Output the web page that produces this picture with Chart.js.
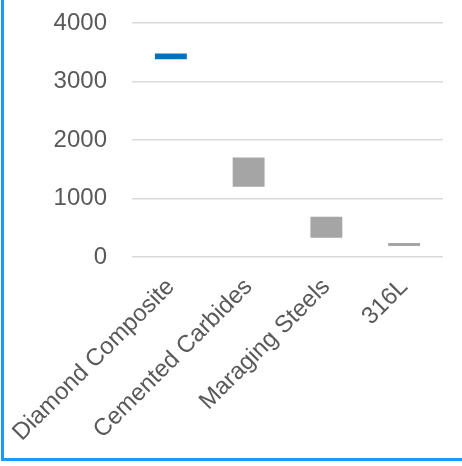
<!DOCTYPE html>
<html>
<head>
<meta charset="utf-8">
<script src="https://cdn.jsdelivr.net/npm/chart.js@4/dist/chart.umd.min.js"></script>
<style>
  html, body { margin: 0; padding: 0; background: #fff; }
  #wrap { position: relative; width: 462px; height: 466px; overflow: hidden; }
  #frame {
    position: absolute; left: 1px; top: -4px; width: 470px; height: 462px;
    border-left: 3px solid #1e98fa; border-bottom: 3px solid #1e98fa;
  }
  #chart { position: absolute; left: 0; top: 0; }
</style>
</head>
<body>
<div id="wrap">
  <canvas id="chart" width="462" height="466"></canvas>
  <div id="frame"></div>
</div>
<script>
  // ---- DATA ----
  const categories = ["Diamond Composite", "Cemented Carbides", "Maraging Steels", "316L"];
  const lowValues = [3380, 1200, 330, 190];
  const highValues = [3480, 1700, 690, 240];
  const yTicks = [0, 1000, 2000, 3000, 4000];

  // floating bars: each entry is [low, high]
  const ranges = categories.map((c, i) => [lowValues[i], highValues[i]]);

  const barColors = ["#0070c0", "#a5a5a5", "#a5a5a5", "#a5a5a5"];
  const font = { family: "'Liberation Sans', Arial, sans-serif", size: 24 };

  // keep the plot box fixed: no extra room for overhanging tick labels
  function noOverhang(scale) {
    scale.paddingLeft = 0;
    scale.paddingRight = 0;
    scale.paddingTop = 0;
    scale.paddingBottom = 0;
  }

  new Chart(document.getElementById("chart"), {
    type: "bar",
    data: {
      labels: categories,
      datasets: [{
        data: ranges,
        backgroundColor: barColors,
        borderWidth: 0,
        categoryPercentage: 1,
        barPercentage: 0.41
      }]
    },
    options: {
      responsive: false,
      animation: false,
      layout: { padding: { left: 50, top: 23, right: 19, bottom: 0 } },
      plugins: { legend: { display: false }, tooltip: { enabled: false } },
      scales: {
        x: {
          grid: { display: false },
          border: { display: false },
          ticks: {
            color: "#595959",
            font: font,
            maxRotation: 45,
            minRotation: 45,
            padding: 8
          },
          afterFit: scale => { scale.height = 209; noOverhang(scale); }
        },
        y: {
          min: 0,
          max: 4000,
          afterBuildTicks: scale => { scale.ticks = yTicks.map(v => ({ value: v })); },
          grid: { color: "#d9d9d9", lineWidth: 1.5, drawTicks: false },
          border: { display: false },
          ticks: {
            color: "#595959",
            font: font,
            padding: 25,
            callback: v => String(v)
          },
          afterFit: scale => { scale.width = 82; noOverhang(scale); }
        }
      }
    }
  });
</script>
</body>
</html>
